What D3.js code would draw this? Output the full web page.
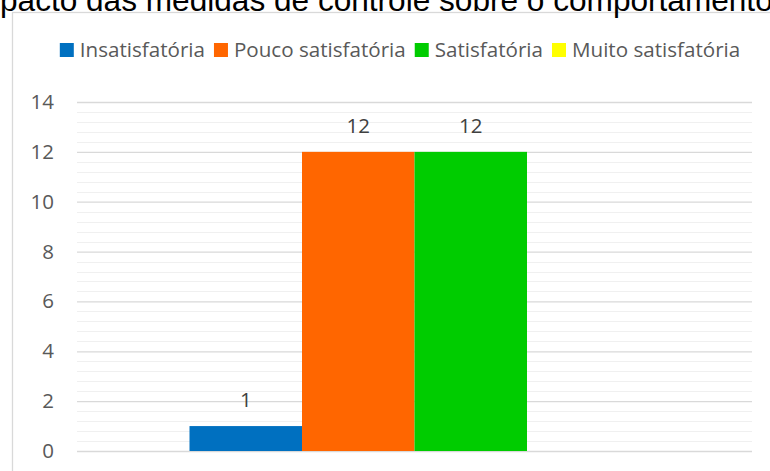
<!DOCTYPE html>
<html>
<head>
<meta charset="utf-8">
<script src="https://cdn.jsdelivr.net/npm/d3@7"></script>
<style>
  html, body { margin: 0; padding: 0; background: #fff; }
  svg { display: block; }
  .tick-label { font-family: "Open Sans", sans-serif; font-size: 20.5px; fill: #595959; }
  .legend-label { font-family: "Open Sans", sans-serif; font-size: 20.6px; fill: #595959; }
  .data-label { font-family: "Open Sans", sans-serif; font-size: 20.5px; fill: #404040; }
  .title { font-family: "Liberation Sans", Arial, sans-serif; font-size: 31.6px; fill: #000; }
</style>
</head>
<body>
<svg id="chart" width="770" height="471"></svg>
<script>
// chart data
const titleText = "Impacto das medidas de controle sobre o comportamento";
const categories = [""];
const seriesNames = ["Insatisfatória", "Pouco satisfatória", "Satisfatória", "Muito satisfatória"];
const seriesColors = ["#0070C0", "#FF6600", "#00CC00", "#FFFF00"];
const seriesValues = [1, 12, 12, null];
const yTicks = [0, 2, 4, 6, 8, 10, 12, 14];

const plot = { left: 77, right: 752, top: 102, bottom: 451 };

const svg = d3.select("#chart");

// chart frame (only top/left visible in the crop)
svg.append("rect")
  .attr("x", 12.5).attr("y", 12.5)
  .attr("width", 800).attr("height", 500)
  .attr("fill", "#fff")
  .attr("stroke", "#d9d9d9")
  .attr("stroke-width", 1.3);

// title, cut off at the top/left like the source
const title = svg.append("text").attr("class", "title").attr("y", 10.5).text(titleText);
const probe = svg.append("text").attr("class", "title").text("Im");
const imW = probe.node().getComputedTextLength();
probe.remove();
title.attr("x", -imW);

const y = d3.scaleLinear().domain([0, 14]).range([plot.bottom, plot.top]);
const x0 = d3.scaleBand().domain(categories).range([plot.left, plot.right])
  .paddingInner(0).paddingOuter(0.25);
const x1 = d3.scaleBand().domain(seriesNames).range([0, x0.bandwidth()]).padding(0);

// minor gridlines
const minor = d3.range(0, 14.0001, 0.4).filter(v => Math.abs(v / 2 - Math.round(v / 2)) > 1e-6);
svg.append("g").selectAll("line").data(minor).join("line")
  .attr("x1", plot.left).attr("x2", plot.right)
  .attr("y1", d => Math.round(y(d)) + 0.5).attr("y2", d => Math.round(y(d)) + 0.5)
  .attr("stroke", "#f0f0f0").attr("stroke-width", 1.2);

// major gridlines + y labels
const yAxis = d3.axisLeft(y).tickValues(yTicks).tickSize(-(plot.right - plot.left)).tickPadding(23);
const ga = svg.append("g").attr("transform", `translate(${plot.left},0)`).call(yAxis);
ga.select(".domain").remove();
ga.selectAll(".tick line").attr("stroke", "#d9d9d9").attr("stroke-width", 1.3);
ga.selectAll(".tick text").attr("class", "tick-label").attr("fill", null);
ga.attr("font-family", null).attr("font-size", null);

// bars
const barData = seriesNames.map((s, i) => ({ series: s, value: seriesValues[i], color: seriesColors[i], cat: categories[0] }))
  .filter(d => d.value != null);
svg.append("g").selectAll("rect").data(barData).join("rect")
  .attr("x", d => x0(d.cat) + x1(d.series))
  .attr("width", x1.bandwidth())
  .attr("y", d => y(d.value))
  .attr("height", d => y(0) - y(d.value))
  .attr("fill", d => d.color);

// data labels
svg.append("g").selectAll("text").data(barData).join("text")
  .attr("class", "data-label")
  .attr("text-anchor", "middle")
  .attr("x", d => x0(d.cat) + x1(d.series) + x1.bandwidth() / 2)
  .attr("y", d => y(d.value) - 19)
  .text(d => d.value);

// legend, centred on the frame
const lg = svg.append("g");
const items = lg.selectAll("g").data(seriesNames).join("g");
items.append("rect").attr("width", 14).attr("height", 14).attr("y", 43)
  .attr("fill", (d, i) => seriesColors[i]);
items.append("text").attr("class", "legend-label").attr("x", 20).attr("y", 57).text(d => d);
const widths = [];
items.each(function() {
  const tw = d3.select(this).select("text").node().getComputedTextLength();
  widths.push(20 + tw);
});
const total = d3.sum(widths) + 9 * (widths.length - 1);
let cx = 400 - total / 2;
items.each(function(d, i) {
  d3.select(this).attr("transform", `translate(${cx},0)`);
  cx += widths[i] + 9;
});
</script>
</body>
</html>
